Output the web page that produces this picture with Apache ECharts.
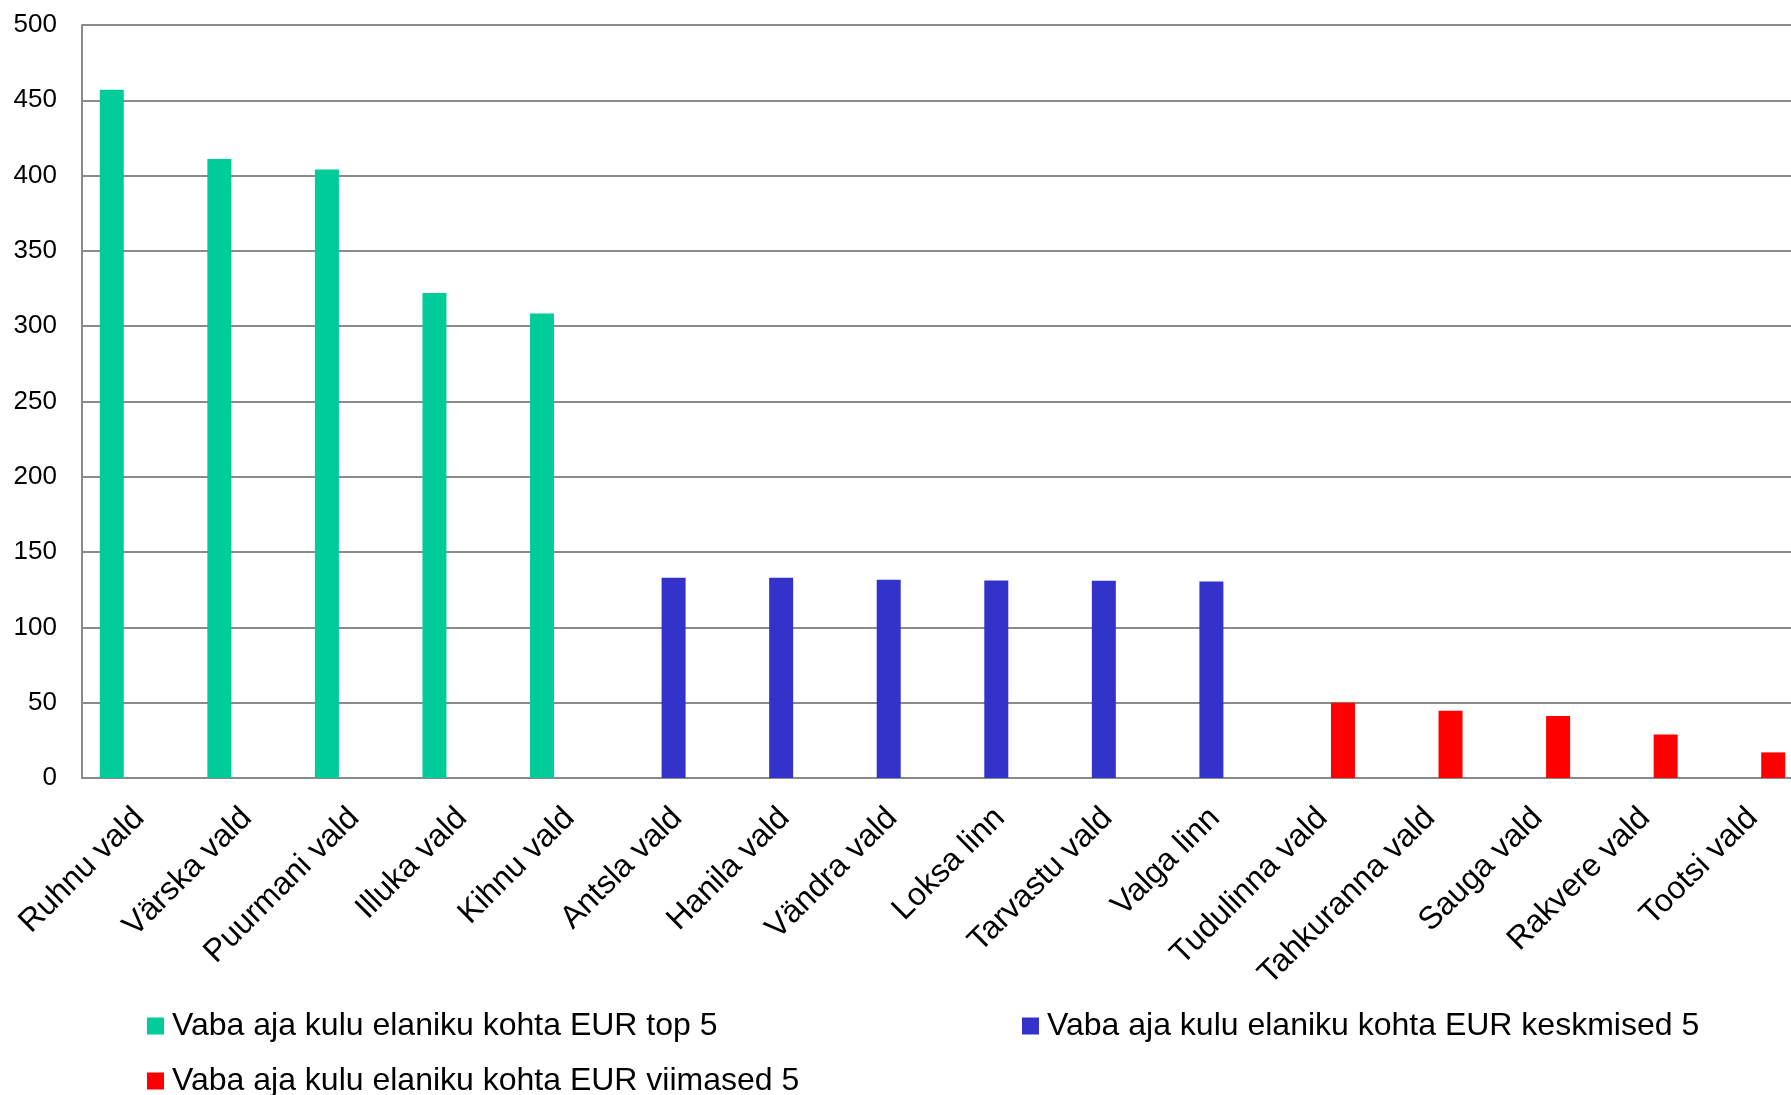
<!DOCTYPE html>
<html>
<head>
<meta charset="utf-8">
<script src="https://cdn.jsdelivr.net/npm/echarts@6/dist/echarts.min.js"></script>
<style>
html,body{margin:0;padding:0;background:#fff;}
#chart{width:1791px;height:1095px;}
</style>
</head>
<body>
<div id="chart"></div>
<script>
const categories = ['Ruhnu vald','Värska vald','Puurmani vald','Illuka vald','Kihnu vald','Antsla vald','Hanila vald','Vändra vald','Loksa linn','Tarvastu vald','Valga linn','Tudulinna vald','Tahkuranna vald','Sauga vald','Rakvere vald','Tootsi vald'];
const seriesNames = ['Vaba aja kulu elaniku kohta EUR top 5','Vaba aja kulu elaniku kohta EUR keskmised 5','Vaba aja kulu elaniku kohta EUR viimased 5'];
const top5 = [457, 411, 404, 322, 308.5, '-', '-', '-', '-', '-', '-', '-', '-', '-', '-', '-'];
const middle5 = ['-', '-', '-', '-', '-', 133, 133, 131.6, 131.1, 130.9, 130.4, '-', '-', '-', '-', '-'];
const last5 = ['-', '-', '-', '-', '-', '-', '-', '-', '-', '-', '-', 50, 44.7, 41.1, 28.9, 17];
const yTicks = {min: 0, max: 500, interval: 50};
const colors = ['#00CC99', '#3333CC', '#FF0000'];

const FONT = '"Liberation Sans", Arial, sans-serif';
const chart = echarts.init(document.getElementById('chart'), null, {renderer: 'canvas'});

function legendFor(i, left, top) {
  return {
    data: [seriesNames[i]],
    left: left, top: top,
    orient: 'horizontal',
    icon: 'rect',
    itemWidth: 17, itemHeight: 17,
    selectedMode: false,
    padding: 0,
    textStyle: {fontFamily: FONT, fontSize: 32, color: '#000', padding: [0, 0, 0, 3]}
  };
}

chart.setOption({
  animation: false,
  backgroundColor: '#fff',
  color: colors,
  grid: {left: 82, top: 25, width: 1721, bottom: 317, containLabel: false, outerBoundsMode: 'none'},
  legend: [
    legendFor(0, 147, 1010),
    legendFor(1, 1022, 1010),
    legendFor(2, 147, 1065)
  ],
  xAxis: {
    type: 'category',
    data: categories,
    axisLine: {show: true, lineStyle: {color: '#8a8a8a', width: 2}},
    axisTick: {show: false},
    axisLabel: {
      interval: 0, rotate: 45, margin: 16,
      align: 'right', verticalAlign: 'top',
      padding: [0, 11, 0, 0],
      fontFamily: FONT, fontSize: 32, color: '#000'
    },
    splitLine: {show: false}
  },
  yAxis: {
    type: 'value',
    min: yTicks.min, max: yTicks.max, interval: yTicks.interval,
    axisLine: {show: true, lineStyle: {color: '#8a8a8a', width: 2}},
    axisTick: {show: false},
    axisLabel: {margin: 25, fontFamily: FONT, fontSize: 26, color: '#000'},
    splitLine: {show: true, lineStyle: {color: '#8a8a8a', width: 2}}
  },
  series: [
    {name: seriesNames[0], type: 'bar', data: top5, barWidth: 24, barGap: '0%'},
    {name: seriesNames[1], type: 'bar', data: middle5, barWidth: 24, barGap: '0%'},
    {name: seriesNames[2], type: 'bar', data: last5, barWidth: 24, barGap: '0%'}
  ]
});
</script>
</body>
</html>
